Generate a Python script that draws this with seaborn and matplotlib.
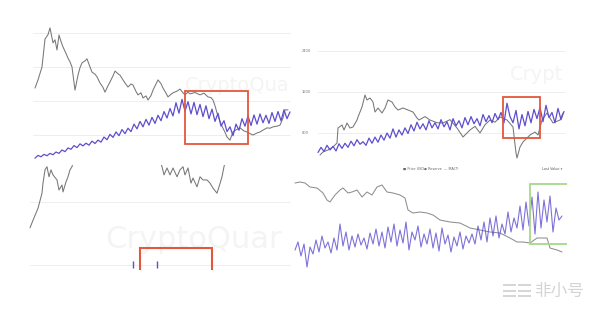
import numpy as np
import matplotlib
matplotlib.use("Agg")
import matplotlib.pyplot as plt
from matplotlib.patches import Rectangle
import seaborn as sns

# ---------------- data ----------------
# top-left panel: price (grey) and metric (purple)
tl_black_x = [35, 38, 42, 45, 48, 50, 53, 55, 57, 59, 61, 63, 66, 68, 70, 72, 75, 78, 80, 82, 85, 87,
              90, 92, 95, 97, 100, 103, 105, 108, 110, 113, 115, 118, 120, 123, 125, 128, 131, 133, 136,
              138, 141, 143, 146, 148, 151, 153, 156, 158, 161, 163, 166, 168, 171, 173, 177, 180, 183,
              185, 188, 190, 195, 200, 204, 208, 211, 213, 215, 217, 220, 222, 225, 227, 230, 233, 236,
              240, 244, 247, 250, 253, 257, 260, 264, 267, 270, 273, 277, 280, 283, 285, 288]
tl_black_y = [23.8, 26.2, 30.0, 38.2, 39.5, 41.5, 37.1, 38.0, 35.0, 39.4, 37.5, 35.9, 34.0, 32.6, 31.5,
              30.0, 23.2, 27.6, 29.8, 31.2, 31.8, 32.4, 30.0, 28.5, 27.9, 27.1, 25.3, 24.0, 22.6, 24.5,
              25.6, 27.4, 28.8, 28.0, 27.6, 26.2, 25.3, 24.1, 25.0, 24.7, 22.8, 21.8, 22.4, 20.9, 21.5,
              20.3, 21.6, 23.2, 25.0, 26.2, 25.1, 23.8, 22.3, 21.2, 22.0, 22.4, 22.9, 23.5, 22.4, 21.8,
              22.6, 22.1, 22.5, 21.8, 22.3, 21.2, 21.0, 20.3, 18.6, 16.5, 14.0, 12.6, 10.8, 9.4, 8.5,
              10.9, 11.5, 12.1, 11.2, 10.9, 10.4, 10.0, 10.6, 10.9, 11.6, 12.1, 12.0, 12.4, 12.6, 12.9,
              15.0, 17.4, 17.4]
tl_purple_y = [3.2, 4.0, 3.6, 4.3, 3.9, 4.6, 4.2, 5.0, 4.6, 5.6, 5.1, 6.2,
               5.8, 6.9, 6.3, 7.4, 6.8, 7.6, 7.0, 8.2, 7.5, 8.5,
               7.9, 9.4, 8.6, 10.2, 9.3, 10.9, 9.8, 11.6, 10.4, 12.0,
               11.0, 13.2, 11.8, 14.0, 12.4, 14.6, 12.9, 15.2, 13.4, 15.8,
               14.2, 16.9, 15.0, 17.8, 15.6, 19.5, 16.4, 20.5, 17.0, 19.8,
               16.2, 19.6, 16.0, 19.0, 15.4, 18.6, 14.8, 17.6, 14.0, 16.4,
               12.6, 14.2, 11.0, 12.4, 9.8, 13.2, 11.4, 14.8, 12.6, 15.6,
               12.8, 15.9, 13.2, 16.2, 13.6, 15.8, 13.4, 16.6, 14.0, 16.9, 14.2, 17.4, 14.8, 16.8]
tl_purple_x = list(range(35, 35 + 3 * len(tl_purple_y), 3))
tl_grid = [10, 20, 30, 40]

# bottom-left panel: price fragments
bl_seg1_x = [30, 33, 38, 42, 43, 45, 47, 49, 51, 53, 57, 59, 62, 63, 66, 68, 70, 72, 75]
bl_seg1_y = [5.9, 7.1, 9.0, 11.4, 13.0, 15.1, 15.6, 14.0, 15.1, 14.3, 13.5, 11.9, 12.7, 11.6, 13.2,
             14.0, 15.1, 15.6, 17.5]
bl_seg2_x = [158, 162, 164, 167, 170, 173, 177, 180, 183, 185, 188, 191, 193, 197, 200, 203, 207,
             210, 213, 217, 219, 222, 224, 227]
bl_seg2_y = [17.5, 15.6, 14.3, 15.4, 14.3, 15.4, 14.0, 15.1, 15.6, 14.3, 15.4, 13.0, 13.8, 12.4,
             14.0, 13.5, 13.5, 13.0, 12.2, 11.4, 12.4, 14.0, 15.6, 17.5]
bl_tick_x = [133, 157]
bl_grid = [0, 10]

# top-right panel
tr_black_x = [320, 323, 328, 333, 337, 338, 342, 344, 347, 350, 353, 357, 358, 362, 365, 367, 370,
              373, 375, 378, 382, 385, 388, 392, 395, 398, 403, 408, 413, 417, 419, 425, 430, 437,
              443, 450, 457, 463, 470, 475, 480, 485, 490, 495, 500, 507, 513, 516, 517, 520, 523,
              527, 530, 535, 538, 542, 547, 553, 560, 563]
tr_black_y = [371, 430, 468, 527, 605, 897, 956, 858, 995, 897, 917, 1053, 1112, 1307, 1541, 1443,
              1482, 1404, 1209, 1287, 1190, 1287, 1443, 1404, 1307, 1248, 1287, 1248, 1209, 1092,
              1053, 1120, 1053, 1000, 995, 1060, 897, 722, 858, 930, 800, 960, 1053, 1010, 1112,
              1053, 917, 410, 312, 527, 624, 702, 761, 819, 761, 1053, 1190, 995, 1053, 1190]
tr_purple_y = [420, 520, 440, 560, 470, 540, 450, 590, 500, 600,
               520, 640, 550, 670, 580, 630, 560, 700, 600, 720,
               620, 760, 660, 800, 700, 880, 720, 860, 760, 900,
               790, 960, 840, 1010, 880, 980, 860, 1040, 900, 1000,
               880, 1060, 920, 1020, 860, 1080, 940, 1040, 900, 1100,
               960, 1120, 980, 1080, 940, 1160, 1020, 1140, 1000, 1180,
               1060, 1200, 1000, 1380, 1120, 1000, 1240, 880, 1160, 940,
               1220, 1000, 1260, 1080, 1300, 1020, 1340, 1100, 1200, 1000, 1280, 1060, 1220]
tr_purple_x = list(range(318, 318 + 3 * len(tr_purple_y), 3))
tr_grid = [800, 1600, 2400]
tr_grid_labels = ["800", "1600", "2400"]
tr_legend = ["\u25a0 Price USD", "\u25cf Reserve", "\u2014 MA(7)"]

# bottom-right panel
br_black_x = [295, 300, 305, 310, 317, 323, 327, 330, 335, 340, 343, 348, 352, 357, 362, 367, 372,
              377, 382, 387, 393, 400, 405, 408, 413, 420, 427, 433, 440, 450, 460, 470, 480, 490,
              500, 510, 517, 523, 530, 537, 547, 550, 557, 562]
br_black_y = [7.9, 8.0, 7.9, 7.5, 7.4, 6.9, 6.2, 6.0, 6.7, 7.2, 7.4, 6.9, 7.0, 7.2, 6.5, 7.0, 6.7,
              7.5, 7.7, 7.0, 6.9, 6.7, 6.4, 5.2, 4.9, 5.0, 4.9, 4.7, 4.2, 4.0, 3.9, 3.4, 3.2, 3.0,
              2.9, 2.4, 2.0, 2.0, 1.9, 2.4, 2.4, 1.4, 1.2, 1.0]
br_purple_y = [1.2, 2.0, 0.6, 1.8, -0.5, 1.5, 0.8, 2.2, 1.0, 2.6, 1.4, 2.0, 0.9, 2.4, 1.2,
               3.8, 1.6, 3.0, 1.2, 2.6, 1.5, 2.8, 1.7, 2.4, 1.3, 2.9, 1.8, 3.3, 1.6, 3.0,
               1.4, 3.5, 2.0, 3.8, 1.6, 3.2, 1.9, 4.0, 1.2, 3.0, 2.2, 3.6, 1.5, 2.8, 1.8,
               3.3, 1.4, 2.9, 1.1, 3.4, 1.8, 2.7, 1.0, 2.5, 1.6, 3.0, 1.3, 2.6, 1.9, 2.8,
               1.8, 3.6, 2.2, 4.0, 2.0, 4.4, 2.6, 4.6, 2.4, 3.8, 2.8, 5.0, 3.0, 4.4, 3.4,
               5.6, 3.2, 6.0, 3.6, 6.5, 2.8, 7.0, 3.4, 6.2, 4.0, 6.6, 3.0, 5.4, 4.2, 4.6]
br_purple_x = list(range(295, 295 + 3 * len(br_purple_y), 3))

# ---------------- style ----------------
sns.set_style("white")
plt.rcParams['font.family'] = ['DejaVu Sans']
W, H = 600, 309
fig = plt.figure(figsize=(6.0, 3.09), dpi=100)
fig.patch.set_facecolor("white")

PURPLE = "#5e4ecf"
GREY = "#777777"
GRID = "#eeeeee"
RED = "#e4573d"
WM = "#f4f4f4"


def make_ax(x0, y0, x1, y1):
    ax = fig.add_axes([x0 / W, 1 - y1 / H, (x1 - x0) / W, (y1 - y0) / H])
    ax.set_facecolor("none")
    for s in ax.spines.values():
        s.set_visible(False)
    ax.set_xticks([])
    ax.set_yticks([])
    return ax


def clean(ax):
    ax.set_xlabel("")
    ax.set_ylabel("")
    leg = ax.get_legend()
    if leg:
        leg.remove()


# ---- top-left ----
ax1 = make_ax(30, 0, 292, 160)
ax1.set_xlim(30, 292)
ax1.set_ylim(2.65, 49.7)
for g in tl_grid:
    ax1.plot([33, 290], [g, g], color=GRID, lw=0.7, zorder=0)
ax1.text(185, 24.7, "CryptoQua", fontsize=14, color=WM, va="center", ha="left", zorder=0.5)
sns.lineplot(x=tl_black_x, y=tl_black_y, ax=ax1, color=GREY, lw=0.75, sort=False, zorder=2)
sns.lineplot(x=tl_purple_x, y=tl_purple_y, ax=ax1, color=PURPLE, lw=0.9, sort=False, zorder=3)
ax1.add_patch(Rectangle((185, 7.35), 63, 15.55, fill=False, ec=RED, lw=1.3, zorder=4))
clean(ax1)

# ---- bottom-left ----
ax2 = make_ax(28, 165, 292, 270)
ax2.set_xlim(28, 292)
ax2.set_ylim(-0.79, 15.87)
for g in bl_grid:
    ax2.plot([30, 290], [g, g], color=GRID, lw=0.7, zorder=0)
ax2.text(105, 4.0, "CryptoQuar", fontsize=22, color=WM, va="center", ha="left", zorder=0.5)
sns.lineplot(x=bl_seg1_x, y=bl_seg1_y, ax=ax2, color=GREY, lw=0.75, sort=False, zorder=2)
sns.lineplot(x=bl_seg2_x, y=bl_seg2_y, ax=ax2, color=GREY, lw=0.75, sort=False, zorder=2)
ax2.vlines(bl_tick_x, -0.5, 0.6, color=PURPLE, lw=1.0, zorder=3)
ax2.add_patch(Rectangle((140, -3), 72, 5.7, fill=False, ec=RED, lw=1.5, zorder=4))
clean(ax2)

# ---- top-right ----
ax3 = make_ax(295, 40, 567, 165)
ax3.set_xlim(295, 567)
ax3.set_ylim(176, 2613)
for g, lab in zip(tr_grid, tr_grid_labels):
    ax3.plot([318, 565], [g, g], color=GRID, lw=0.7, zorder=0)
    ax3.text(302, g, lab, fontsize=2.6, color="#777777", va="center", ha="left")
ax3.text(510, 1931, "Crypt", fontsize=14, color=WM, va="center", ha="left", zorder=0.5)
sns.lineplot(x=tr_black_x, y=tr_black_y, ax=ax3, color=GREY, lw=0.75, sort=False, zorder=2)
sns.lineplot(x=tr_purple_x, y=tr_purple_y, ax=ax3, color=PURPLE, lw=0.9, sort=False, zorder=3)
ax3.add_patch(Rectangle((503, 702), 37, 800, fill=False, ec=RED, lw=1.3, zorder=4))
clean(ax3)

# legend row under top-right panel
for xx, lab in zip([403, 424, 444], tr_legend):
    fig.text(xx / W, 1 - 169 / H, lab, fontsize=2.4, color="#666666", va="center", ha="left")
fig.text(562 / W, 1 - 169 / H, "Last Value \u25be", fontsize=2.4, color="#555555",
         va="center", ha="right")

# ---- bottom-right ----
ax4 = make_ax(293, 175, 567, 270)
ax4.set_xlim(293, 567)
ax4.set_ylim(-0.8, 8.7)
sns.lineplot(x=br_black_x, y=br_black_y, ax=ax4, color="#8e8e8e", lw=0.75, sort=False, zorder=2)
sns.lineplot(x=br_purple_x, y=br_purple_y, ax=ax4, color=PURPLE, lw=0.8, alpha=0.8,
             sort=False, zorder=3)
ax4.add_patch(Rectangle((530, 1.8), 60, 6.0, fill=False, ec="#a6d98a", lw=1.3, zorder=4))
clean(ax4)

# ---- watermark bottom-right ----
logo = fig.add_axes([503 / W, 1 - 298 / H, 29 / W, 15 / H])
logo.set_xlim(0, 29)
logo.set_ylim(0, 15)
logo.axis("off")
for (lx, ly, lw_, lh) in [(0, 12, 13, 2), (0, 6.5, 13, 2), (0, 1, 13, 2),
                          (15, 12, 13, 2), (15, 6.5, 13, 2), (15, 1, 13, 2)]:
    logo.add_patch(Rectangle((lx, ly), lw_, lh, color="#d6d6d6", lw=0))
fig.text(534 / W, 1 - 291 / H, "非小号", fontsize=12, color="#d4d4d4", va="center", ha="left",
         family=['Noto Sans CJK SC', 'DejaVu Sans'])

fig.savefig("out.png", dpi=100, facecolor="white")
